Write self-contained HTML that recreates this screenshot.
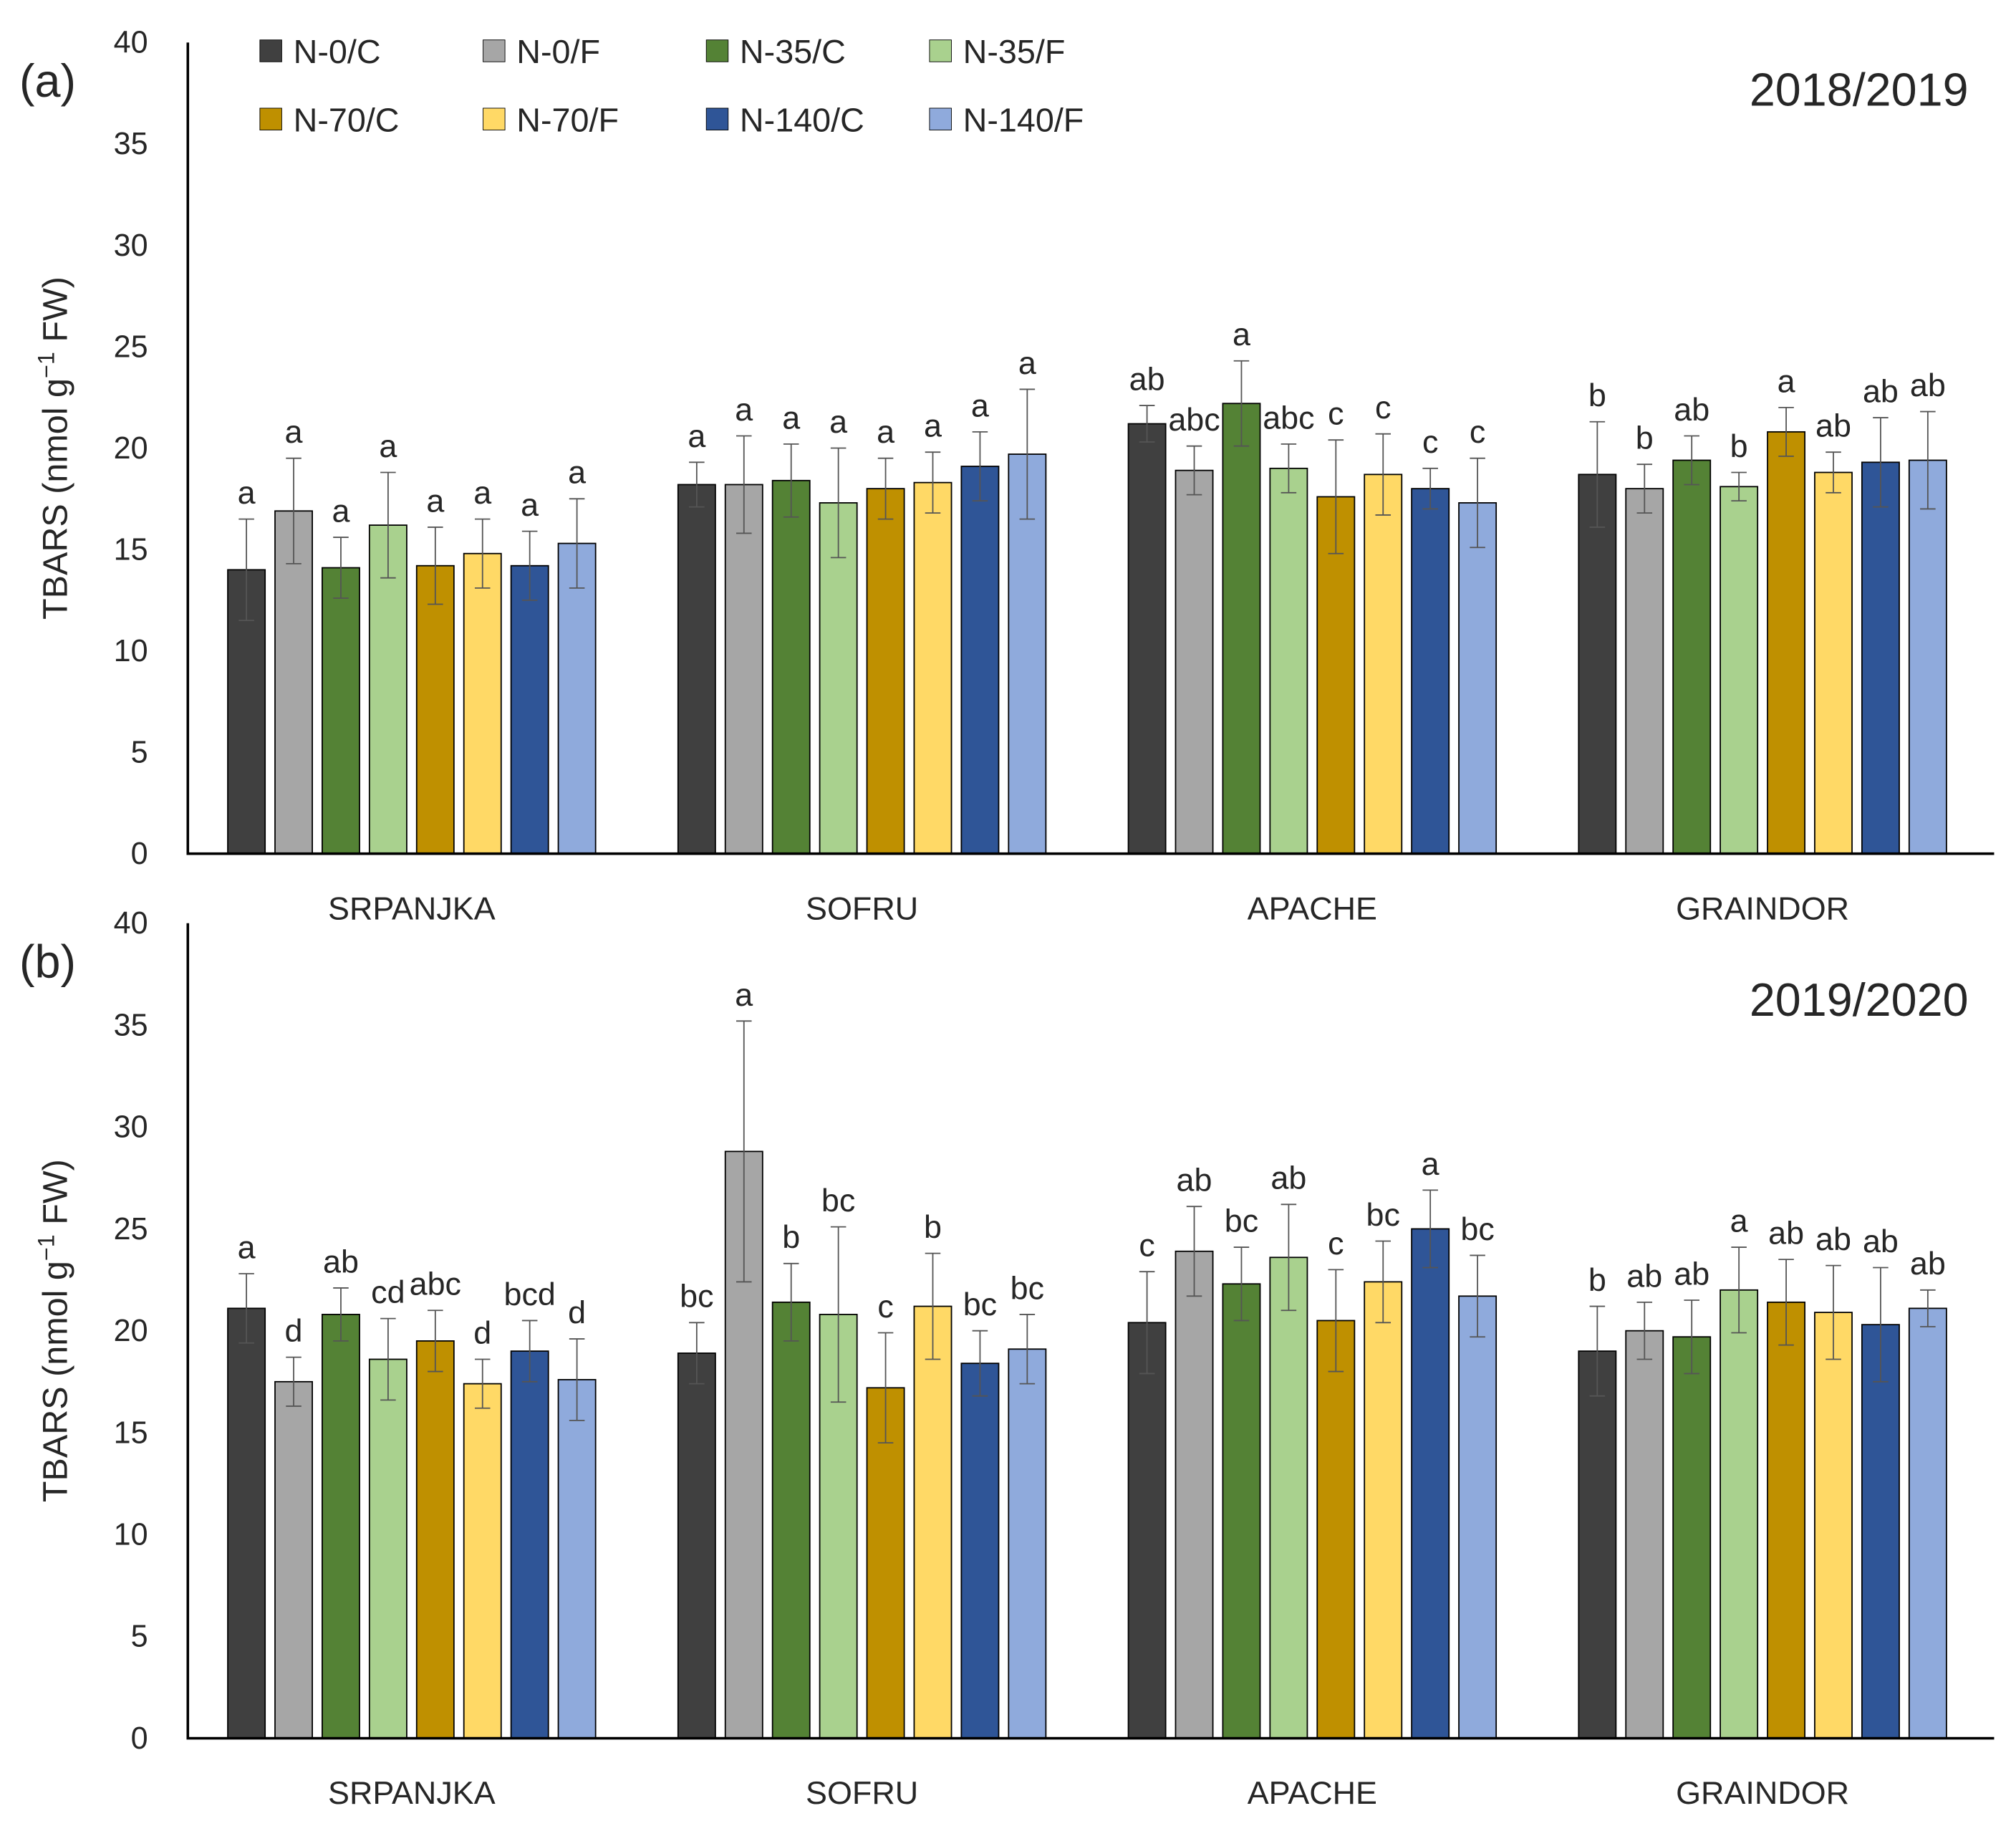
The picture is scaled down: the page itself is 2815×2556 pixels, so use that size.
<!DOCTYPE html>
<html><head><meta charset="utf-8"><style>html,body{margin:0;padding:0;background:#fff}svg{display:block}text{font-family:"Liberation Sans",sans-serif;fill:#262626}</style></head>
<body>
<svg id="chart" width="2815" height="2556" viewBox="0 0 1567 1422" preserveAspectRatio="none" xmlns="http://www.w3.org/2000/svg"></svg>
<script>
const categories = ["SRPANJKA","SOFRU","APACHE","GRAINDOR"];
const seriesNames = ["N-0/C","N-0/F","N-35/C","N-35/F","N-70/C","N-70/F","N-140/C","N-140/F"];
const colors = ["#404040","#a6a6a6","#548235","#a9d18e","#bf9000","#ffd966","#2f5597","#8faadc"];
const yTicks = [0,5,10,15,20,25,30,35,40];
const valuesA = [[14.0,16.9,14.1,16.2,14.2,14.8,14.2,15.3],[18.2,18.2,18.4,17.3,18.0,18.3,19.1,19.7],[21.2,18.9,22.2,19.0,17.6,18.7,18.0,17.3],[18.7,18.0,19.4,18.1,20.8,18.8,19.3,19.4]];
const errorsA = [[2.5,2.6,1.5,2.6,1.9,1.7,1.7,2.2],[1.1,2.4,1.8,2.7,1.5,1.5,1.7,3.2],[0.9,1.2,2.1,1.2,2.8,2.0,1.0,2.2],[2.6,1.2,1.2,0.7,1.2,1.0,2.2,2.4]];
const lettersA = [["a","a","a","a","a","a","a","a"],["a","a","a","a","a","a","a","a"],["ab","abc","a","abc","c","c","c","c"],["b","b","ab","b","a","ab","ab","ab"]];
const valuesB = [[21.1,17.5,20.8,18.6,19.5,17.4,19.0,17.6],[18.9,28.8,21.4,20.8,17.2,21.2,18.4,19.1],[20.4,23.9,22.3,23.6,20.5,22.4,25.0,21.7],[19.0,20.0,19.7,22.0,21.4,20.9,20.3,21.1]];
const errorsB = [[1.7,1.2,1.3,2.0,1.5,1.2,1.5,2.0],[1.5,6.4,1.9,4.3,2.7,2.6,1.6,1.7],[2.5,2.2,1.8,2.6,2.5,2.0,1.9,2.0],[2.2,1.4,1.8,2.1,2.1,2.3,2.8,0.9]];
const lettersB = [["a","d","ab","cd","abc","d","bcd","d"],["bc","a","b","bc","c","b","bc","bc"],["c","ab","bc","ab","c","bc","a","bc"],["b","ab","ab","a","ab","ab","ab","ab"]];

const svg = document.getElementById('chart');
const NS = "http://www.w3.org/2000/svg";
function mk(tag, attrs, txt){const e=document.createElementNS(NS,tag);for(const k in attrs)e.setAttribute(k,attrs[k]);if(txt!==undefined)e.textContent=txt;svg.appendChild(e);return e;}

function panel(id, y0, y40, vals, errs, lets, label, year, yearY){
  const yS = v => y0 + (y40-y0)*v/40;
  const xC = (g,i) => 320 + g*350 + (i-3.5)*36.7;
  yTicks.forEach(t=>{
    const e=mk('text',{x:115,y:yS(t)+8,'text-anchor':'end','font-size':24},t);
    
    
  });
  const yc=(y0+y40)/2;
  const tt=mk('text',{x:0,y:0,'text-anchor':'middle','font-size':27,transform:`translate(52,${yc}) rotate(-90)`});
  tt.innerHTML='TBARS (nmol g<tspan baseline-shift="super" font-size="18">−1</tspan> FW)';
  
  
  categories.forEach((c,g)=>{
    vals[g].forEach((v,i)=>{
      const x=xC(g,i), top=yS(v);
      const r=mk('rect',{x:x-14.5,y:top,width:29,height:y0-top,fill:colors[i],stroke:'#000','stroke-width':1});
      
      
      const eu=yS(v+errs[g][i]), el=yS(v-errs[g][i]);
      const eb=mk('path',{d:`M${x},${eu}V${el}M${x-6},${eu}H${x+6}M${x-6},${el}H${x+6}`,stroke:'#555','stroke-width':1,fill:'none'});
      
      
      const lt=mk('text',{x:x,y:eu-12,'text-anchor':'middle','font-size':25},lets[g][i]);
      
      
    });
    const cl=mk('text',{x:320+g*350,y:y0+51,'text-anchor':'middle','font-size':25},c);
    
    
  });
  const ax=mk('path',{d:`M146,${y40}V${y0}H1550`,stroke:'#000','stroke-width':2,fill:'none'});
  
  
  const pl=mk('text',{x:15,y:y40+42,'font-size':36},label);
  
  
  const yr=mk('text',{x:1530,y:yearY,'text-anchor':'end','font-size':36},year);
  
  
}
panel('a',663,33,valuesA,errorsA,lettersA,'(a)','2018/2019',82);
panel('b',1350,717,valuesB,errorsB,lettersB,'(b)','2019/2020',789);

seriesNames.forEach((n,i)=>{
  const col=i%4,row=Math.floor(i/4);
  const x=202+col*173.5, y=40+row*53;
  const sq=mk('rect',{x:x,y:y-9,width:17,height:17,fill:colors[i],stroke:'#000','stroke-width':0.5});
  
  
  const t=mk('text',{x:x+26,y:y+9,'font-size':26},n);
  
  
});
</script>
</body></html>
